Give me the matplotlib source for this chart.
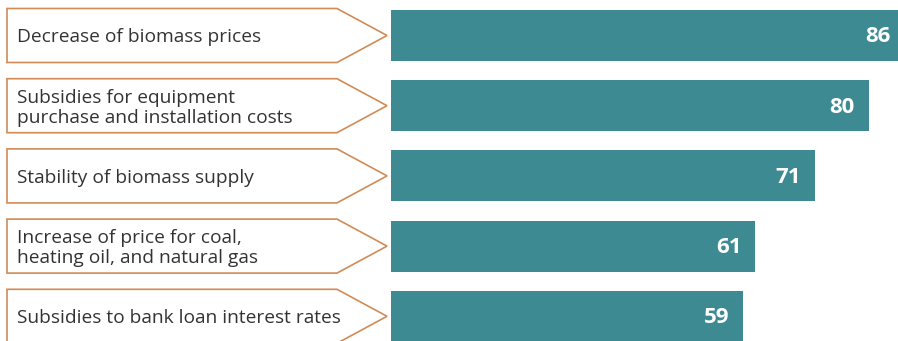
import matplotlib.pyplot as plt
from matplotlib.patches import Polygon

# data
factors = [
    "Decrease of biomass prices",
    "Subsidies for equipment\npurchase and installation costs",
    "Stability of biomass supply",
    "Increase of price for coal,\nheating oil, and natural gas",
    "Subsidies to bank loan interest rates",
]
scores = [86, 80, 71, 61, 59]

bar_color = "#3D8A93"
edge_color = "#D08B57"
text_color = "#333333"

W, H = 898, 341
fig = plt.figure(figsize=(W / 100, H / 100), dpi=100)

# rows are ~70.2 px apart, first centre at 35.5 px
pitch = 70.2
y_top = -35.5 / pitch
y_bot = (H - 35.5) / pitch

# label column (x in pixels)
ax_lab = fig.add_axes([0, 0, 391 / W, 1])
ax_lab.set_xlim(0, 391)
ax_lab.set_ylim(y_bot, y_top)
ax_lab.axis("off")

half = 27 / pitch
for i, txt in enumerate(factors):
    pts = [(7, i - half), (337, i - half), (387, i), (337, i + half), (7, i + half)]
    ax_lab.add_patch(Polygon(pts, closed=True, facecolor="white",
                             edgecolor=edge_color, linewidth=1.2))
    ax_lab.text(17, i + 2 / pitch, txt, va="center", ha="left", fontsize=13.8,
                color=text_color, family="Open Sans", linespacing=1.12)

# bars
ax = fig.add_axes([391 / W, 0, 1 - 391 / W, 1])
ax.barh(range(len(scores)), scores, height=51 / pitch, color=bar_color)
ax.set_xlim(0, (W - 391) / 5.97)
ax.set_ylim(y_bot, y_top)
ax.axis("off")

for i, v in enumerate(scores):
    ax.annotate(str(v), (v, i), xytext=(-10, -1), textcoords="offset points",
                ha="right", va="center", fontsize=16, fontweight="bold",
                color="white", family="Open Sans", annotation_clip=False)

fig.savefig("out.png", dpi=100)
